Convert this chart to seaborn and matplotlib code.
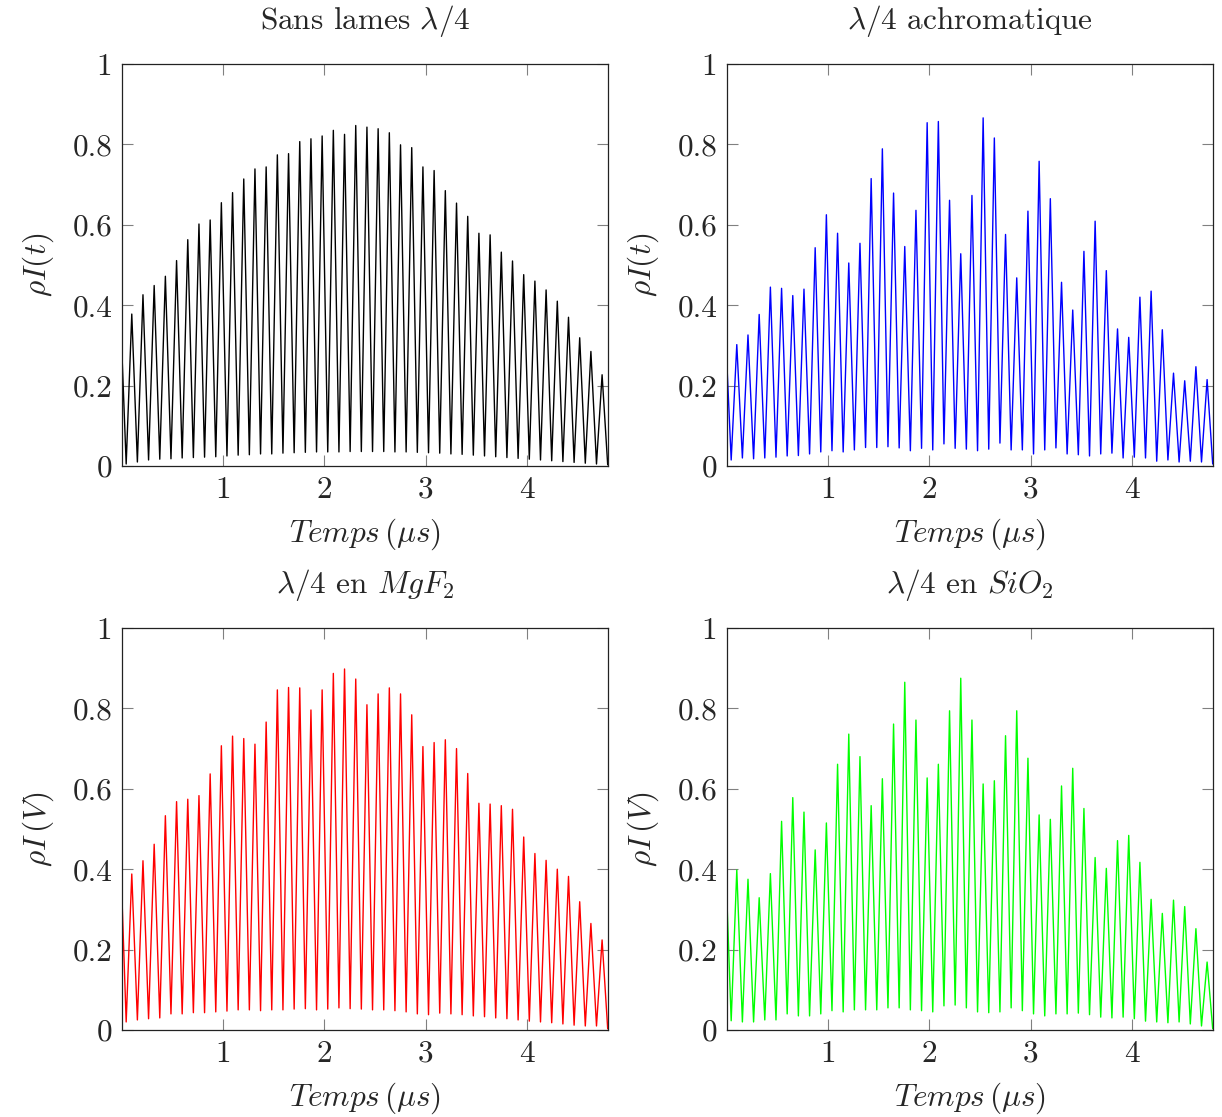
import numpy as np
import pandas as pd
import matplotlib
matplotlib.use('Agg')
import matplotlib.pyplot as plt
import seaborn as sns

# Sommets des oscillations (43 par courbe)
pic_sans = [0.378, 0.426, 0.449, 0.472, 0.511, 0.563, 0.602, 0.612, 0.655, 0.680,
            0.714, 0.739, 0.744, 0.774, 0.777, 0.807, 0.814, 0.821, 0.835, 0.825,
            0.847, 0.843, 0.839, 0.829, 0.799, 0.792, 0.744, 0.735, 0.685, 0.654,
            0.621, 0.579, 0.575, 0.532, 0.510, 0.476, 0.460, 0.438, 0.410, 0.370,
            0.319, 0.285, 0.227]
pic_achro = [0.302, 0.326, 0.377, 0.445, 0.442, 0.424, 0.440, 0.543, 0.625, 0.579,
             0.505, 0.554, 0.715, 0.789, 0.679, 0.546, 0.636, 0.854, 0.857, 0.661,
             0.528, 0.673, 0.866, 0.816, 0.576, 0.468, 0.634, 0.758, 0.665, 0.457,
             0.388, 0.534, 0.609, 0.486, 0.341, 0.320, 0.420, 0.435, 0.339, 0.231,
             0.212, 0.247, 0.215]
pic_mgf2 = [0.388, 0.421, 0.462, 0.533, 0.568, 0.574, 0.583, 0.637, 0.707, 0.731,
            0.725, 0.711, 0.766, 0.846, 0.852, 0.851, 0.796, 0.846, 0.887, 0.898,
            0.873, 0.809, 0.836, 0.851, 0.836, 0.784, 0.705, 0.715, 0.722, 0.700,
            0.638, 0.564, 0.562, 0.558, 0.549, 0.480, 0.439, 0.422, 0.400, 0.382,
            0.319, 0.265, 0.224]
pic_sio2 = [0.398, 0.375, 0.329, 0.389, 0.519, 0.578, 0.542, 0.448, 0.515, 0.661,
            0.736, 0.680, 0.558, 0.625, 0.761, 0.865, 0.771, 0.627, 0.661, 0.794,
            0.875, 0.771, 0.612, 0.620, 0.732, 0.794, 0.676, 0.535, 0.524, 0.607,
            0.651, 0.551, 0.429, 0.402, 0.471, 0.484, 0.417, 0.325, 0.290, 0.323,
            0.307, 0.252, 0.169]

# Creux entre les sommets (44 : un avant chaque sommet + le dernier)
creux_sans = [0.005, 0.010, 0.015, 0.017, 0.018, 0.020, 0.021, 0.022, 0.023, 0.025,
              0.027, 0.028, 0.030, 0.030, 0.032, 0.033, 0.034, 0.035, 0.035, 0.035,
              0.036, 0.036, 0.036, 0.036, 0.035, 0.035, 0.034, 0.033, 0.032, 0.030,
              0.029, 0.027, 0.025, 0.023, 0.021, 0.019, 0.017, 0.015, 0.013, 0.011,
              0.009, 0.007, 0.005, 0.003]
creux_achro = [0.015, 0.020, 0.018, 0.020, 0.022, 0.025, 0.026, 0.030, 0.035, 0.038,
               0.035, 0.040, 0.046, 0.046, 0.048, 0.045, 0.038, 0.044, 0.040, 0.055,
               0.044, 0.042, 0.038, 0.042, 0.057, 0.040, 0.040, 0.030, 0.040, 0.045,
               0.030, 0.028, 0.025, 0.030, 0.032, 0.020, 0.022, 0.020, 0.012, 0.015,
               0.010, 0.012, 0.010, 0.005]
creux_mgf2 = [0.020, 0.025, 0.028, 0.030, 0.040, 0.040, 0.043, 0.043, 0.045, 0.047,
              0.050, 0.050, 0.048, 0.050, 0.050, 0.052, 0.053, 0.050, 0.052, 0.055,
              0.053, 0.052, 0.050, 0.050, 0.048, 0.045, 0.040, 0.038, 0.042, 0.040,
              0.038, 0.035, 0.033, 0.030, 0.028, 0.025, 0.022, 0.020, 0.018, 0.015,
              0.012, 0.010, 0.010, 0.003]
creux_sio2 = [0.023, 0.020, 0.020, 0.025, 0.025, 0.040, 0.035, 0.035, 0.040, 0.048,
              0.045, 0.050, 0.050, 0.050, 0.055, 0.055, 0.050, 0.048, 0.045, 0.060,
              0.062, 0.055, 0.045, 0.043, 0.045, 0.055, 0.048, 0.040, 0.035, 0.040,
              0.040, 0.042, 0.038, 0.032, 0.030, 0.032, 0.028, 0.022, 0.020, 0.018,
              0.020, 0.015, 0.010, 0.003]

# Valeur a t = 0
debut = {'sans': 0.28, 'achro': 0.25, 'mgf2': 0.33, 'sio2': 0.32}

# Temps des sommets (periode mesuree ~0.1106 us)
t_premier_pic = 0.097
periode = 0.1106

titres = [r'Sans lames $\lambda/4$', r'$\lambda/4$ achromatique',
          r'$\lambda/4$ en $MgF_2$', r'$\lambda/4$ en $SiO_2$']
ylabels = [r'$\rho I(t)$', r'$\rho I(t)$', r'$\rho I\,(V)$', r'$\rho I\,(V)$']
couleurs = ['black', 'blue', 'red', '#00ff00']
xticks = [1, 2, 3, 4]
yticks = [0, 0.2, 0.4, 0.6, 0.8, 1]
yticklabels = ['0', '0.2', '0.4', '0.6', '0.8', '1']


def signal(depart, pics, creux):
    # suite alternee creux / sommet
    t_pics = t_premier_pic + periode * np.arange(len(pics))
    t = [0.0]
    v = [depart]
    for k in range(len(pics)):
        t.append(t_pics[k] - periode / 2)
        v.append(creux[k])
        t.append(t_pics[k])
        v.append(pics[k])
    t.append(t_pics[-1] + periode / 2)
    v.append(creux[-1])
    return pd.DataFrame({'t': t, 'v': v})


series = [signal(debut['sans'], pic_sans, creux_sans),
          signal(debut['achro'], pic_achro, creux_achro),
          signal(debut['mgf2'], pic_mgf2, creux_mgf2),
          signal(debut['sio2'], pic_sio2, creux_sio2)]

sns.set_style('ticks')
plt.rcParams['font.family'] = ['cmr10', 'DejaVu Serif']
plt.rcParams['mathtext.fontset'] = 'cm'
plt.rcParams['axes.formatter.use_mathtext'] = True

fig = plt.figure(figsize=(12.22, 11.17), dpi=100)
positions = [[0.0998, 0.5828, 0.3977, 0.3599], [0.5949, 0.5828, 0.3977, 0.3599],
             [0.0998, 0.0779, 0.3977, 0.3599], [0.5949, 0.0779, 0.3977, 0.3599]]

for i in range(4):
    ax = fig.add_axes(positions[i])
    sns.lineplot(data=series[i], x='t', y='v', ax=ax, color=couleurs[i],
                 linewidth=1.0, sort=False)
    ax.set_xlim(0, 4.8)
    ax.set_ylim(0, 1)
    ax.set_xticks(xticks)
    ax.set_xticklabels([str(x) for x in xticks])
    ax.set_yticks(yticks)
    ax.set_yticklabels(yticklabels)
    ax.tick_params(direction='in', top=True, right=True, length=8, width=0.8,
                   color='#808080', labelsize=22.5, pad=7)
    for s in ax.spines.values():
        s.set_linewidth(0.9)
        s.set_color('#222222')
    ax.set_title(titres[i], fontsize=22.5, pad=25)
    ax.set_xlabel(r'$Temps\,(\mu s)$', fontsize=22.5, labelpad=9)
    ax.set_ylabel(ylabels[i], fontsize=22.5, labelpad=12)

plt.savefig('out.png', dpi=100)
